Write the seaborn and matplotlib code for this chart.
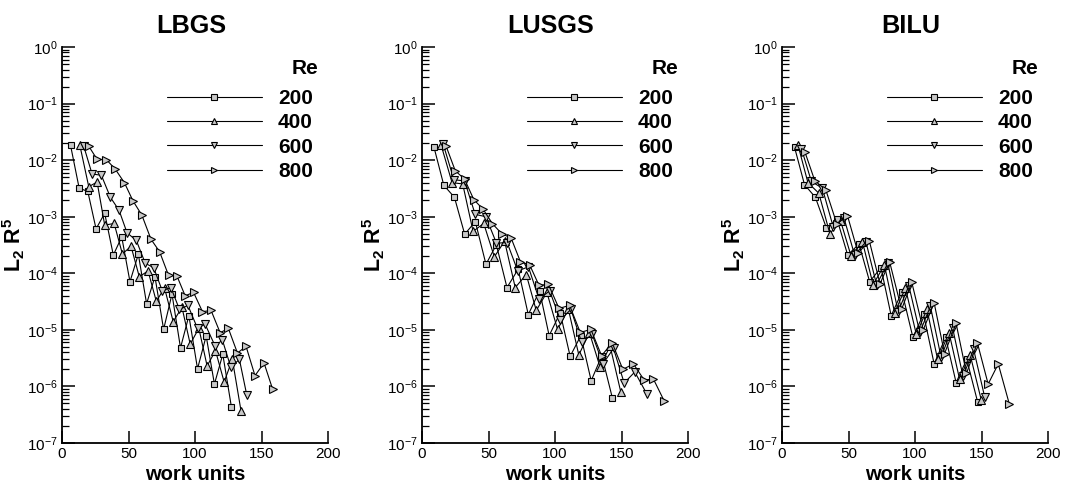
import numpy as np
import pandas as pd
import matplotlib
matplotlib.use("Agg")
import matplotlib.pyplot as plt
import seaborn as sns
from matplotlib.ticker import LogLocator, FixedLocator

# ---------------- data ----------------
titles = ["LBGS", "LUSGS", "BILU"]
re_levels = ["200", "400", "600", "800"]

# LBGS
lbgs_x200 = [6.4, 12.9, 19.4, 25.6, 32.1, 38.6, 44.9, 51.1, 57.4, 63.6, 69.9, 76.4, 82.7, 89.1, 95.4, 101.9, 108.4, 114.6, 120.9, 127.4]
lbgs_y200 = [1.84e-2, 3.2e-3, 2.8e-3, 6.1e-4, 1.15e-3, 2.1e-4, 4.4e-4, 7.1e-5, 2.17e-4, 2.9e-5, 8.7e-5, 1.02e-5, 4.3e-5, 4.8e-6, 1.78e-5, 2.05e-6, 7.8e-6, 1.1e-6, 3.7e-6, 4.3e-7]
lbgs_x400 = [13.4, 20.1, 26.4, 32.1, 39.2, 45.4, 51.9, 58.1, 64.7, 70.9, 77.1, 83.6, 90.2, 96.4, 102.9, 109.1, 115.4, 121.9, 128.1, 134.6]
lbgs_y400 = [1.84e-2, 3.4e-3, 4.1e-3, 7.1e-4, 7.6e-4, 2.2e-4, 3.0e-4, 8.7e-5, 1.1e-4, 3.2e-5, 5.5e-5, 1.4e-5, 2.5e-5, 5.6e-6, 1.07e-5, 2.3e-6, 4.3e-6, 1.2e-6, 3.0e-6, 3.7e-7]
lbgs_x600 = [16.4, 22.6, 29.6, 36.4, 42.9, 48.9, 55.9, 62.6, 68.9, 75.4, 81.9, 88.3, 94.7, 101.9, 107.6, 115.1, 120.6, 126.9, 133.4, 138.9]
lbgs_y600 = [1.75e-2, 5.7e-3, 5.4e-3, 2.2e-3, 1.3e-3, 5.2e-4, 3.8e-4, 1.5e-4, 1.26e-4, 4.9e-5, 5.6e-5, 2.3e-5, 2.7e-5, 1.06e-5, 1.26e-5, 5.2e-6, 6.6e-6, 2.2e-6, 3.0e-6, 7.1e-7]
lbgs_x800 = [20.1, 26.4, 33.4, 40.1, 46.9, 53.4, 60.1, 66.9, 73.4, 80.1, 86.4, 92.6, 98.9, 105.6, 112.1, 118.9, 125.1, 131.9, 138.4, 145.1, 151.9, 158.4]
lbgs_y800 = [1.77e-2, 1.03e-2, 1.02e-2, 6.9e-3, 4.0e-3, 1.9e-3, 1.06e-3, 4.0e-4, 2.4e-4, 9.2e-5, 9.0e-5, 4.0e-5, 4.6e-5, 2.1e-5, 2.2e-5, 8.9e-6, 1.06e-5, 3.9e-6, 5.1e-6, 1.55e-6, 2.6e-6, 8.9e-7]

# LUSGS
lusgs_x200 = [8.9, 16.4, 24.4, 32.1, 40.1, 48.1, 55.9, 63.9, 72.3, 79.9, 88.4, 95.6, 103.9, 111.4, 119.4, 127.2, 135.2, 143.1]
lusgs_y200 = [1.73e-2, 3.6e-3, 2.2e-3, 4.9e-4, 8.2e-4, 1.44e-4, 3.2e-4, 5.6e-5, 1.18e-4, 1.86e-5, 4.9e-5, 7.9e-6, 2.0e-5, 3.4e-6, 7.9e-6, 1.26e-6, 3.5e-6, 6.3e-7]
lusgs_x400 = [14.4, 22.6, 30.6, 38.4, 46.4, 54.4, 62.1, 70.1, 78.4, 85.9, 93.9, 101.9, 110.1, 117.9, 125.9, 133.9, 141.4, 149.4]
lusgs_y400 = [1.84e-2, 4.0e-3, 3.8e-3, 5.5e-4, 7.6e-4, 1.95e-4, 3.7e-4, 5.6e-5, 9.5e-5, 2.2e-5, 4.6e-5, 1.02e-5, 2.3e-5, 3.6e-6, 8.9e-6, 2.2e-6, 5.2e-6, 8.1e-7]
lusgs_x600 = [16, 24, 32, 40, 48, 56, 64, 72, 80, 88, 96, 104, 112, 120, 128, 136, 144, 152, 160, 169]
lusgs_y600 = [1.9e-2, 4.5e-3, 4.3e-3, 1.1e-3, 1.0e-3, 3.4e-4, 3.5e-4, 1.1e-4, 1.3e-4, 3.5e-5, 4.9e-5, 1.5e-5, 2.3e-5, 6.0e-6, 8.3e-6, 2.5e-6, 4.7e-6, 1.15e-6, 1.8e-6, 7.4e-7]
lusgs_x800 = [18, 25, 32, 39, 46, 53, 60, 67, 74, 81, 88, 95, 103, 111, 119, 127, 135, 143, 151, 159, 167, 174, 182]
lusgs_y800 = [1.8e-2, 6.5e-3, 4.6e-3, 2.0e-3, 1.35e-3, 7.5e-4, 5.0e-4, 4.2e-4, 1.6e-4, 1.4e-4, 6.1e-5, 6.4e-5, 2.4e-5, 2.7e-5, 9.0e-6, 1.02e-5, 3.5e-6, 5.9e-6, 2.0e-6, 2.5e-6, 1.3e-6, 1.35e-6, 5.6e-7]

# BILU
bilu_x200 = [9.4, 16.9, 25.1, 33.4, 41.4, 49.4, 57.9, 65.9, 74.4, 82.1, 90.2, 98.4, 106.4, 114.4, 123.0, 130.9, 138.9, 147.2]
bilu_y200 = [1.7e-2, 3.7e-3, 2.2e-3, 6.3e-4, 9.0e-4, 2.1e-4, 3.3e-4, 7.1e-5, 1.26e-4, 1.78e-5, 4.7e-5, 7.4e-6, 1.9e-5, 2.5e-6, 7.4e-6, 1.17e-6, 3.0e-6, 5.2e-7]
bilu_x400 = [12.0, 19.5, 27.7, 36.0, 44.0, 52.0, 60.5, 68.5, 77.0, 84.7, 92.8, 101.0, 109.0, 117.0, 125.6, 133.5, 141.5, 149.8]
bilu_y400 = [1.85e-2, 4.0e-3, 2.6e-3, 5.0e-4, 8.5e-4, 2.0e-4, 3.6e-4, 6.3e-5, 1.4e-4, 2.0e-5, 5.5e-5, 8.3e-6, 2.3e-5, 3.0e-6, 8.9e-6, 1.35e-6, 3.6e-6, 5.8e-7]
bilu_x600 = [14.6, 22.1, 30.3, 38.6, 46.6, 54.6, 63.1, 71.1, 79.6, 87.3, 95.4, 103.6, 111.6, 119.6, 128.2, 136.1, 144.1, 152.4]
bilu_y600 = [1.6e-2, 4.2e-3, 3.2e-3, 6.5e-4, 9.5e-4, 2.1e-4, 3.6e-4, 6.3e-5, 1.5e-4, 2.1e-5, 6.0e-5, 9.0e-6, 2.6e-5, 3.3e-6, 1.1e-5, 1.5e-6, 4.5e-6, 6.5e-7]
bilu_x800 = [17.2, 24.7, 32.9, 41.2, 49.2, 57.2, 65.7, 73.7, 80.9, 89.9, 97.6, 106.2, 114.4, 122.2, 130.9, 138.7, 146.9, 155.0, 162.6, 170.9]
bilu_y800 = [1.4e-2, 4.3e-3, 3.0e-3, 7.5e-4, 1.05e-3, 2.3e-4, 3.7e-4, 6.5e-5, 1.6e-4, 2.3e-5, 6.9e-5, 1.0e-5, 3.0e-5, 3.8e-6, 1.3e-5, 1.7e-6, 5.9e-6, 1.1e-6, 2.5e-6, 4.9e-7]

x_ticks = [0, 50, 100, 150, 200]
x_label = "work units"
y_label = r"L$_\mathbf{2}$ R$^\mathbf{5}$"
legend_title = "Re"

panels = [
    [(lbgs_x200, lbgs_y200), (lbgs_x400, lbgs_y400), (lbgs_x600, lbgs_y600), (lbgs_x800, lbgs_y800)],
    [(lusgs_x200, lusgs_y200), (lusgs_x400, lusgs_y400), (lusgs_x600, lusgs_y600), (lusgs_x800, lusgs_y800)],
    [(bilu_x200, bilu_y200), (bilu_x400, bilu_y400), (bilu_x600, bilu_y600), (bilu_x800, bilu_y800)],
]

# ---------------- style ----------------
sns.set_style("ticks")
plt.rcParams["font.family"] = ["Liberation Sans", "DejaVu Sans"]
plt.rcParams["mathtext.fontset"] = "custom"
plt.rcParams["mathtext.rm"] = "Liberation Sans"
plt.rcParams["mathtext.bf"] = "Liberation Sans:bold"
plt.rcParams["mathtext.default"] = "regular"
for k in ["text.color", "axes.labelcolor", "xtick.color", "ytick.color", "axes.edgecolor"]:
    plt.rcParams[k] = "black"

markers = {"200": "s", "400": "^", "600": "v", "800": ">"}
msizes = {"200": 4.6, "400": 5.4, "600": 5.4, "800": 5.4}

fig = plt.figure(figsize=(10.68, 4.92), dpi=100)
lefts = [62 / 1068, 422 / 1068, 782 / 1068]
w = 266 / 1068
b = 1 - 443 / 492
h = (443 - 47) / 492

for i, (title, series) in enumerate(zip(titles, panels)):
    ax = fig.add_axes([lefts[i], b, w, h])
    frames = []
    for lev, (xs, ys) in zip(re_levels, series):
        frames.append(pd.DataFrame({"x": xs, "y": ys, "Re": lev}))
    df = pd.concat(frames, ignore_index=True)
    sns.lineplot(data=df, x="x", y="y", style="Re", style_order=re_levels,
                 markers=markers, dashes=False, color="black", linewidth=0.8,
                 markersize=5.0, markerfacecolor="#c8c8c8", markeredgecolor="black",
                 markeredgewidth=0.8, sort=False, estimator=None, errorbar=None,
                 legend=False, ax=ax)
    lines = ax.get_lines()
    for ln, lev in zip(lines, re_levels):
        ln.set_markersize(msizes[lev])
    ax.set_yscale("log")
    ax.set_ylim(1e-7, 1e0)
    ax.set_xlim(0, 200)
    ax.xaxis.set_major_locator(FixedLocator(x_ticks))
    ax.yaxis.set_major_locator(LogLocator(base=10, numticks=20))
    ax.yaxis.set_minor_locator(LogLocator(base=10, subs=np.arange(2, 10), numticks=20))
    ax.tick_params(axis="both", which="major", direction="in", length=9, width=1.1,
                   labelsize=11, pad=3, colors="black")
    ax.tick_params(axis="y", which="minor", direction="in", length=5, width=0.9, colors="black")
    ax.tick_params(axis="x", which="minor", length=0)
    for s in ["top", "right"]:
        ax.spines[s].set_visible(False)
    for s in ["left", "bottom"]:
        ax.spines[s].set_linewidth(1.3)
        ax.spines[s].set_color("black")
    ax.set_xlabel(x_label, fontsize=14.5, fontweight="bold", labelpad=3, color="black")
    ax.set_ylabel(y_label, fontsize=15.5, fontweight="bold", labelpad=0, color="black")
    ax.set_title(title, fontsize=18.2, fontweight="bold", pad=10, color="black", x=0.485)
    leg = ax.legend(handles=list(lines), labels=re_levels,
                    loc="upper right", bbox_to_anchor=(0.99, 0.926), frameon=False,
                    numpoints=1, handlelength=4.6, handletextpad=0.75, labelspacing=0.26,
                    borderpad=0.1,
                    prop={"size": 15, "weight": "bold"})
    for t in leg.get_texts():
        t.set_color("black")
    for hl in leg.legend_handles:
        hl.set_markersize(4.6)
    ax.text(0.965, 0.945, legend_title, transform=ax.transAxes, ha="right", va="center",
            fontsize=15, fontweight="bold", color="black")

fig.savefig("out.png", dpi=100)
